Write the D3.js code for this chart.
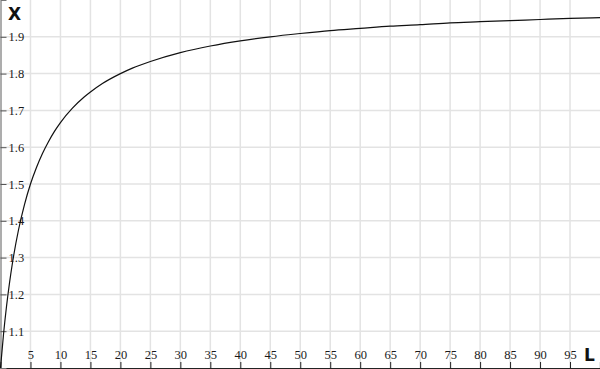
<!DOCTYPE html>
<html><head><meta charset="utf-8">
<script src="https://cdn.jsdelivr.net/npm/d3@7"></script>
<style>html,body{margin:0;padding:0;background:#fff;overflow:hidden}</style>
</head><body>
<svg id="c" width="600" height="369"></svg>
<script>
const lValues = [0,0.5,1,1.5,2,3,4,5,6,7,8,9,10,12,14,15,17,20,22,25,30,35,40,45,50,55,60,65,70,75,80,85,90,95,100];
const xValues = [1.0,1.091,1.167,1.231,1.286,1.375,1.444,1.5,1.545,1.583,1.615,1.643,1.667,1.706,1.737,1.75,1.773,1.8,1.815,1.833,1.857,1.875,1.889,1.9,1.909,1.917,1.923,1.929,1.933,1.938,1.941,1.944,1.947,1.95,1.952];
const xTicks = [5,10,15,20,25,30,35,40,45,50,55,60,65,70,75,80,85,90,95];
const yTicks = [1.1,1.2,1.3,1.4,1.5,1.6,1.7,1.8,1.9];
const xLabel = "L", yLabel = "X";

const svg = d3.select("#c");
const W = 600, H = 368;
const x = d3.scaleLinear().domain([0,100]).range([0.5,W]);
const y = d3.scaleLinear().domain([1,2]).range([H,0]);

// grid
svg.append("g").selectAll("line").data(xTicks).join("line")
  .attr("x1",d=>x(d)).attr("x2",d=>x(d)).attr("y1",0).attr("y2",H)
  .attr("stroke","#e3e3e3").attr("stroke-width",1.5);
svg.append("g").selectAll("line").data(yTicks).join("line")
  .attr("x1",0).attr("x2",W).attr("y1",d=>y(d)).attr("y2",d=>y(d))
  .attr("stroke","#e3e3e3").attr("stroke-width",1.5);

function styleText(sel){
  sel.selectAll("text").style("font-family","'Liberation Serif', serif").style("font-size","12.5px").attr("fill","#1a1a1a");
}
// axes
const xa = svg.append("g").attr("transform",`translate(0,${H})`)
  .call(d3.axisTop(x).tickValues(xTicks).tickSize(6).tickPadding(3).tickFormat(d3.format("d")));
xa.select(".domain").attr("stroke","#222").attr("stroke-width",1.2);
xa.selectAll(".tick line").attr("stroke","#222");
styleText(xa);

const ya = svg.append("g").attr("transform","translate(0.5,0)")
  .call(d3.axisRight(y).tickValues(yTicks).tickSize(6).tickPadding(2).tickFormat(d3.format(".1f")));
ya.select(".domain").attr("stroke","#777").attr("stroke-width",1.2);
ya.selectAll(".tick line").attr("stroke","#555");
styleText(ya);

// curve
const pts = lValues.map((l,i)=>[l,xValues[i]]);
svg.append("path").datum(pts)
  .attr("d", d3.line().x(d=>x(d[0])).y(d=>y(d[1])).curve(d3.curveMonotoneX))
  .attr("fill","none").attr("stroke","#111").attr("stroke-width",1.2);

// axis labels
svg.append("text").attr("x",8).attr("y",20).text(yLabel)
  .style("font-family","'DejaVu Sans', sans-serif").style("font-weight","bold").style("font-size","17px").attr("fill","#111");
svg.append("text").attr("x",584).attr("y",361).text(xLabel)
  .style("font-family","'DejaVu Sans', sans-serif").style("font-weight","bold").style("font-size","17px").attr("fill","#111");
</script>
</body></html>
